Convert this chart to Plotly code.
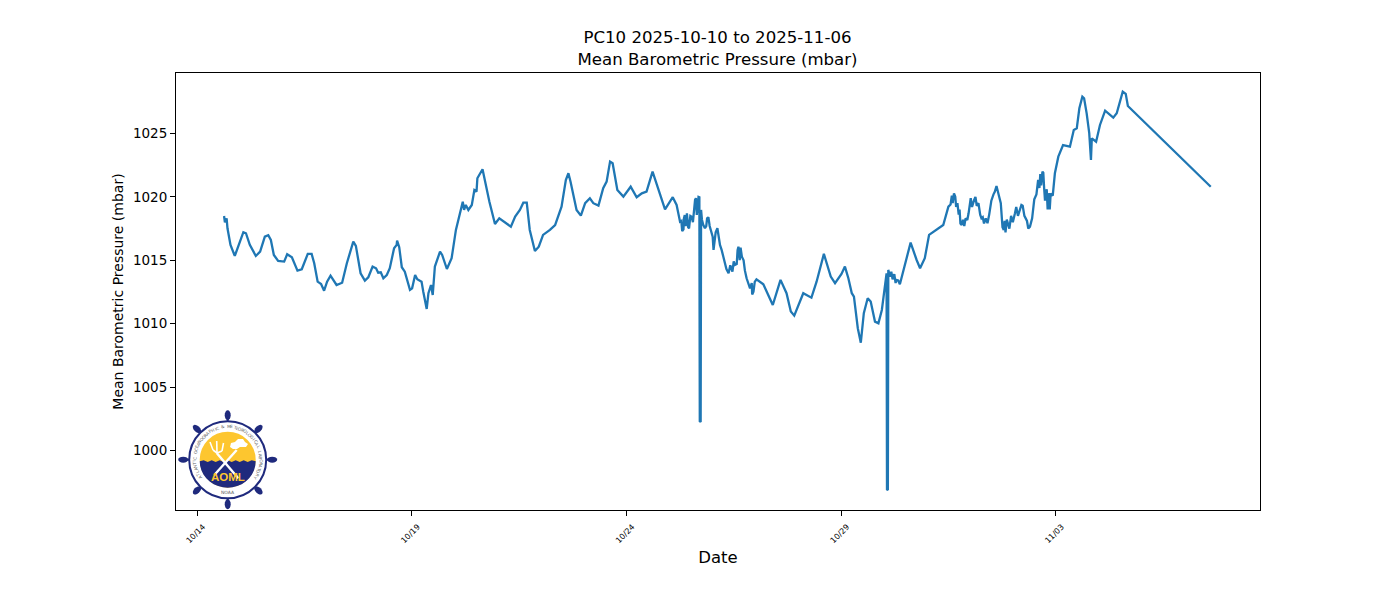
import math
import pandas as pd
import plotly.graph_objects as go

TITLE = "PC10 2025-10-10 to 2025-11-06<br>Mean Barometric Pressure (mbar)"
Y_LABEL = "Mean Barometric Pressure (mbar)"
X_LABEL = "Date"
BASE_DATE = "2025-10-14"
TICK_DAYS = [0, 5, 10, 15, 20]
TICK_LABELS = ["10/14", "10/19", "10/24", "10/29", "11/03"]
Y_TICKS = [1000, 1005, 1010, 1015, 1020, 1025]
X_RANGE_DAYS = [-0.489, 24.757]
Y_RANGE = [995.3, 1029.77]

days = [
 0.63,0.65,0.71,0.78,0.88,0.96,1.08,1.14,1.23,1.37,1.47,1.58,1.66,1.72,1.79,1.89,2.03,2.10,2.21,2.34,
 2.44,2.58,2.67,2.73,2.81,2.89,2.96,3.03,3.11,3.25,3.38,3.49,3.60,3.64,3.70,3.81,3.91,3.99,4.09,4.17,
 4.22,4.28,4.34,4.42,4.49,4.59,4.65,4.66,4.71,4.77,4.84,4.96,5.01,5.08,5.13,5.23,5.27,5.35,5.39,5.45,
 5.49,5.54,5.66,5.71,5.82,5.93,6.03,6.12,6.19,6.22,6.26,6.32,6.40,6.46,6.51,6.53,6.65,6.81,6.94,7.04,
 7.17,7.31,7.41,7.52,7.60,7.68,7.75,7.87,7.96,8.06,8.22,8.34,8.49,8.59,8.65,8.70,8.84,8.94,9.04,9.15,
 9.23,9.35,9.46,9.54,9.62,9.68,9.79,9.93,10.10,10.24,10.36,10.47,10.61,10.74,10.90,11.08,11.17,11.25,11.33,11.36,
 11.46,11.52,11.60,11.64,11.70,11.71,11.73,11.74,11.83,11.91,12.01,12.03,12.12,12.18,12.38,12.53,12.61,12.69,12.80,12.88,12.96,
 13.03,13.19,13.41,13.59,13.73,13.83,13.91,14.12,14.31,14.43,14.60,14.76,14.86,15.01,15.09,15.17,15.25,15.30,15.39,15.46,
 15.53,15.62,15.69,15.79,15.87,15.95,16.03,16.06,16.07,16.09,16.10,16.29,16.37,16.49,16.62,16.76,16.84,16.95,17.05,17.38,17.50,
 17.63,17.71,17.81,17.94,18.10,18.20,18.27,18.41,18.62,18.72,18.79,18.89,19.05,19.20,19.40,19.59,19.69,19.73,19.83,19.88,
 19.98,20.06,20.17,20.33,20.42,20.49,20.55,20.62,20.66,20.72,20.78,20.82,20.84,20.94,21.03,21.15,21.34,21.42,21.56,21.63,
 21.68,23.61,
]
pressure = [
 1018.49,1018.0,1017.52,1016.21,1015.34,1016.03,1017.21,1017.13,1016.21,1015.34,1015.68,1016.86,1016.97,1016.6,1015.42,1014.94,1014.89,1015.47,1015.24,1014.18,
 1014.29,1015.5,1015.5,1014.76,1013.31,1013.13,1012.6,1013.31,1013.78,1013.05,1013.23,1014.76,1016.13,1016.47,1016.13,1013.97,1013.39,1013.66,1014.5,1014.37,
 1014.02,1014.05,1013.58,1013.84,1014.37,1015.95,1016.21,1016.55,1016.03,1014.45,1014.1,1012.66,1012.79,1013.84,1013.5,1013.31,1012.52,1011.16,1012.4,1013.05,
 1012.26,1014.5,1015.68,1015.42,1014.31,1015.16,1017.39,1018.71,1019.62,1018.97,1019.36,1018.97,1019.36,1020.54,1020.41,1021.47,1022.18,1019.62,1017.86,1018.31,
 1017.97,1017.65,1018.44,1018.97,1019.54,1019.54,1017.39,1015.73,1016.07,1017.0,1017.39,1017.78,1019.23,1021.33,1021.86,1021.2,1018.97,1018.52,1019.5,1019.89,
 1019.5,1019.31,1020.68,1021.2,1022.78,1022.65,1020.54,1020.02,1020.8,1019.97,1020.28,1020.41,1021.99,1020.68,1019.02,1019.97,1019.36,1018.04,1017.44,1018.57,
 1017.52,1018.44,1019.76,1018.57,1019.97,1002.3,1002.25,1018.97,1017.52,1018.39,1016.86,1015.81,1017.52,1016.21,1013.97,1014.63,1016.07,1015.28,1013.58,1012.79,1012.52,
 1013.5,1013.11,1011.47,1013.45,1012.4,1010.95,1010.63,1012.4,1012.05,1013.31,1015.5,1013.71,1013.19,1013.92,1014.5,1013.58,1012.4,1012.13,1009.64,1008.5,
 1010.82,1012.0,1011.74,1010.16,1010.03,1011.08,1013.19,1013.97,996.92,996.88,1014.24,1013.45,1013.11,1014.76,1016.39,1015.02,1014.37,1015.16,1017.0,1017.78,1019.23,
 1020.28,1019.5,1017.78,1018.18,1019.76,1019.5,1018.31,1017.92,1020.86,1019.5,1017.39,1017.92,1018.71,1019.36,1017.65,1021.33,1021.99,1020.68,1019.1,1020.15,
 1021.86,1023.17,1024.09,1023.96,1025.28,1025.41,1026.99,1027.9,1027.78,1026.59,1025.02,1022.91,1024.62,1024.35,1025.67,1026.8,1026.25,1026.59,1028.3,1028.12,
 1027.17,1020.8,
]

# Extra readings from the stretches where the trace is visibly noisy.
noisy_days = [
 0.67,0.69,
 11.28,11.30,11.34,11.38,11.41,11.44,11.49,11.55,11.57,11.62,11.66,11.68,
 11.76,11.79,11.86,11.88,11.94,11.97,12.06,12.08,12.15,12.22,12.27,12.33,12.42,12.47,12.50,12.57,12.59,12.64,12.66,12.73,12.76,
 12.92,12.93,12.99,
 16.14,16.17,16.20,16.24,16.27,16.33,
 17.55,17.58,17.60,17.66,17.68,17.74,17.76,17.78,17.84,17.87,17.90,17.97,18.02,18.05,18.13,18.16,18.24,18.30,18.33,18.37,18.45,18.50,18.55,18.58,18.65,
 18.76,18.81,18.83,18.86,18.92,18.96,19.00,19.08,19.12,19.17,19.23,19.27,19.33,19.36,
 19.45,19.50,19.55,19.62,19.64,19.66,19.71,19.75,19.79,19.81,19.85,19.86,19.90,19.93,
]
noisy_pressure = [
 1018.1,1018.3,
 1018.1,1017.3,1018.3,1017.7,1018.7,1017.6,1018.5,1018.0,1019.0,1019.9,1019.2,1020.0,
 1018.2,1017.8,1017.7,1018.3,1017.7,1017.3,1016.6,1017.2,1016.9,1015.8,1015.2,1014.3,1014.6,1014.1,1014.9,1014.7,1015.8,1015.0,1016.0,1015.0,1014.2,
 1013.2,1012.3,1013.3,
 1013.7,1014.1,1013.5,1013.9,1013.2,1013.4,
 1019.4,1020.1,1019.5,1020.0,1019.2,1018.6,1019.0,1017.9,1018.2,1017.7,1018.3,1018.7,1019.9,1019.2,1020.0,1019.3,1018.6,1018.4,1017.9,1018.3,1018.6,1019.7,1020.2,1020.4,1020.4,
 1017.6,1018.1,1017.2,1018.2,1017.5,1018.5,1018.0,1019.2,1018.5,1019.1,1019.3,1018.5,1018.1,1017.5,
 1018.3,1019.8,1020.2,1020.7,1021.8,1020.9,1021.9,1019.7,1020.6,1019.1,1020.3,1019.0,1020.2,1020.1,
]

WIDTH, HEIGHT = 1400, 600
LEFT, RIGHT, TOP, BOTTOM = 176, 1260, 73, 510
NAVY = "#1f2a7d"
GOLD = "#fdc62f"


def to_date(d):
    return pd.Timestamp(BASE_DATE) + pd.to_timedelta(d, unit="D")


def px(x):
    return (x - LEFT) / (RIGHT - LEFT)


def py(y):
    return (BOTTOM - y) / (BOTTOM - TOP)


def path(points, close=True):
    s = "M " + " L ".join(f"{px(x):.5f},{py(y):.5f}" for x, y in points)
    return s + (" Z" if close else "")


def circle(cx, cy, r, fill, line=None, lw=0):
    return dict(type="circle", xref="paper", yref="paper",
                x0=px(cx - r), x1=px(cx + r), y0=py(cy + r), y1=py(cy - r),
                fillcolor=fill, line=dict(color=line or fill, width=lw))


def stroke(a, b, color, width):
    return dict(type="line", xref="paper", yref="paper",
                x0=px(a[0]), y0=py(a[1]), x1=px(b[0]), y1=py(b[1]),
                line=dict(color=color, width=width))


def logo():
    cx, cy = 227.7, 459.7
    shapes = []
    for k in range(8):
        a = k * math.pi / 4
        ca, sa = math.cos(a), math.sin(a)
        pts = []
        for t in range(16):
            b = t * 2 * math.pi / 16
            u, v = 5.0 * math.cos(b), 3.0 * math.sin(b)
            r = 44.5 if k % 2 == 0 else 43.5
            pts.append((cx + (r + u) * ca - v * sa, cy + (r + u) * sa + v * ca))
        shapes.append(dict(type="path", xref="paper", yref="paper", path=path(pts),
                           fillcolor=NAVY, line=dict(color=NAVY, width=0)))
        shapes.append(stroke((cx + 37 * ca, cy + 37 * sa), (cx + 42 * ca, cy + 42 * sa), NAVY, 2))
    shapes.append(circle(cx, cy, 38.5, "white", NAVY, 2))
    shapes.append(circle(cx, cy, 28, GOLD))
    lower = [(cx - 28, cy + 1.5)]
    for i in range(1, 14):
        lower.append((cx - 28 + i * 4, cy + (0.6 if i % 2 else 2.2)))
    for t in range(0, 19):
        b = t * math.pi / 18
        lower.append((cx + 28 * math.cos(b), cy + 1.5 + 26.5 * math.sin(b)))
    shapes.append(dict(type="path", xref="paper", yref="paper", path=path(lower),
                       fillcolor=NAVY, line=dict(color=NAVY, width=0)))
    shapes += [
        stroke((238.3, 478.3), (216.7, 453), "white", 2.4),
        stroke((214.3, 475), (236.7, 450), "white", 2.4),
        stroke((210, 442), (213, 450), "white", 1.6),
        stroke((213, 450), (217, 453), "white", 1.6),
        stroke((217, 453), (222, 451), "white", 1.6),
        stroke((222, 451), (223.5, 443), "white", 1.6),
        stroke((217, 453), (216.7, 441), "white", 1.6),
    ]
    cloud = [(230, 447), (231, 443), (235, 442), (238, 439), (243, 439), (245, 442),
             (248, 444), (246, 447), (240, 447), (237, 449), (233, 449)]
    shapes.append(dict(type="path", xref="paper", yref="paper", path=path(cloud),
                       fillcolor="white", line=dict(color="white", width=0)))
    return shapes


def logo_text():
    cx, cy = 227.7, 459.7
    common = dict(xref="paper", yref="paper", showarrow=False, xanchor="center", yanchor="middle")
    out = [dict(text="<b>AOML</b>", x=px(227.7), y=py(476.7),
                font=dict(family="Liberation Sans", size=11.5, color=GOLD), **common),
           dict(text="NOAA", x=px(228), y=py(492),
                font=dict(family="DejaVu Sans", size=4.5, color="#555555"), **common)]
    ring = "ATLANTIC OCEANOGRAPHIC & METEOROLOGICAL LABORATORY"
    n = len(ring)
    for i, ch in enumerate(ring):
        if ch == " ":
            continue
        deg = -122 + 244 * i / (n - 1)
        a = math.radians(deg)
        out.append(dict(text=ch, x=px(cx + 33 * math.sin(a)), y=py(cy - 33 * math.cos(a)),
                        textangle=deg,
                        font=dict(family="DejaVu Sans", size=4.3, color="#666666"), **common))
    return out


readings = sorted(zip(days + noisy_days, pressure + noisy_pressure))

fig = go.Figure(go.Scatter(
    x=[to_date(d) for d, _ in readings], y=[v for _, v in readings], mode="lines",
    line=dict(color="#1f77b4", width=2.3), hoverinfo="skip", showlegend=False))

axis_line = dict(showline=True, linecolor="black", linewidth=1, mirror=True,
                 ticks="outside", tickcolor="black", ticklen=5, tickwidth=1,
                 showgrid=False, zeroline=False)

fig.update_layout(
    width=WIDTH, height=HEIGHT, autosize=False,
    margin=dict(l=LEFT, r=WIDTH - RIGHT, t=TOP, b=HEIGHT - BOTTOM, pad=0),
    paper_bgcolor="white", plot_bgcolor="white",
    font=dict(family="DejaVu Sans", color="black"),
    title=dict(text=TITLE, x=717.5 / WIDTH, xanchor="center",
               y=1 - 43 / HEIGHT, yanchor="top", font=dict(size=16.6)),
    xaxis=dict(type="date", range=[to_date(d) for d in X_RANGE_DAYS],
               tickvals=[to_date(d) for d in TICK_DAYS], ticktext=TICK_LABELS,
               tickangle=-45, tickfont=dict(size=8), ticklabelshift=6, ticklabelstandoff=3,
               title=dict(text=X_LABEL, font=dict(size=16.5), standoff=7), **axis_line),
    yaxis=dict(range=Y_RANGE, tickvals=Y_TICKS, ticktext=[str(v) for v in Y_TICKS],
               tickfont=dict(size=13.5),
               title=dict(text=Y_LABEL, font=dict(size=14), standoff=6), **axis_line),
    shapes=logo(), annotations=logo_text(),
)

fig.write_html("out.html", config={"displayModeBar": False},
               post_script="document.body.style.margin='0';")
